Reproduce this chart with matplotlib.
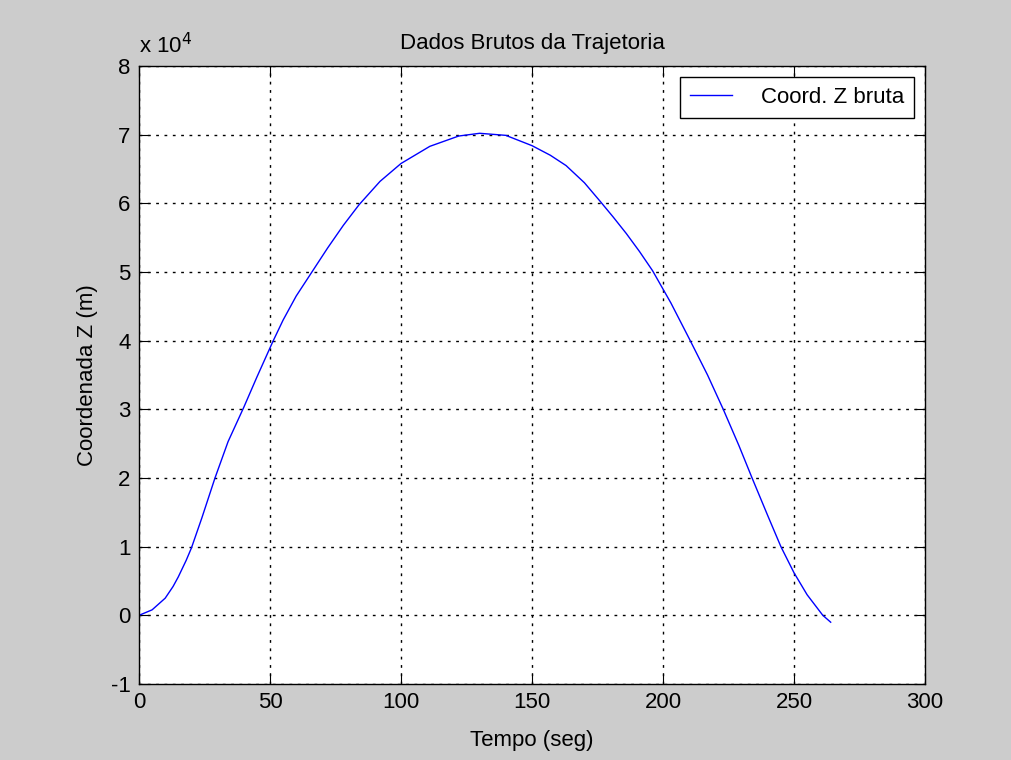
import numpy as np
import matplotlib
matplotlib.use("Agg")
import matplotlib.pyplot as plt

# tempo (s) e coordenada Z bruta (m)
tempo = [0, 5, 10, 13, 15, 18, 20, 24, 29, 34, 40, 45, 51, 55, 60, 66, 72,
         78, 84, 92, 100, 111, 122, 130, 140, 150, 157, 163, 170, 176, 181,
         186, 191, 196, 203, 210, 217, 223, 229, 234, 240, 245, 250, 255,
         261, 264]
coord_z = [0, 800, 2500, 4200, 5600, 8000, 9800, 14200, 20000, 25300,
           30300, 34700, 39800, 43000, 46500, 50000, 53500, 56800, 59800,
           63200, 65800, 68300, 69800, 70200, 69900, 68400, 67000, 65500,
           63000, 60300, 58000, 55600, 53000, 50200, 45500, 40300, 35000,
           30000, 24700, 20000, 14500, 10000, 6200, 3000, 0, -1000]

xticks = [0, 50, 100, 150, 200, 250, 300]
yticks = [-1, 0, 1, 2, 3, 4, 5, 6, 7, 8]

plt.rcParams['font.family'] = ['Liberation Sans', 'DejaVu Sans']

fig = plt.figure(figsize=(10.12, 7.6), dpi=100, facecolor='#cccccc')
ax = fig.add_axes([139 / 1012, 1 - 684 / 760, (925 - 139) / 1012, (684 - 66) / 760])
ax.set_facecolor('white')

ax.plot(tempo, coord_z, color='#0000ff', lw=1.0, label='Coord. Z bruta')

ax.set_xlim(0, 300)
ax.set_ylim(-1e4, 8e4)
ax.set_xticks(xticks)
ax.set_yticks([v * 1e4 for v in yticks])
ax.set_yticklabels([str(v) for v in yticks])
ax.grid(True, color='black', linestyle=(0, (2, 4)), linewidth=1.0)
ax.tick_params(direction='in', length=8, top=True, right=True, labelsize=16,
               colors='black', pad=6)
for s in ax.spines.values():
    s.set_linewidth(1.0)
    s.set_color('black')

ax.text(0.0, 1.012, r'x 10$^4$', transform=ax.transAxes, fontsize=16,
        ha='left', va='bottom')
ax.set_title('Dados Brutos da Trajetoria', fontsize=16, pad=12)
ax.set_xlabel('Tempo (seg)', fontsize=16, labelpad=12)
ax.set_ylabel('Coordenada Z (m)', fontsize=16, labelpad=9)

leg = ax.legend(loc='upper right', fontsize=16, fancybox=False, framealpha=1,
                edgecolor='black', borderpad=0.45, handlelength=1.9,
                handletextpad=1.3)
leg.get_frame().set_linewidth(1.0)

fig.savefig('out.png', dpi=100, facecolor=fig.get_facecolor())
